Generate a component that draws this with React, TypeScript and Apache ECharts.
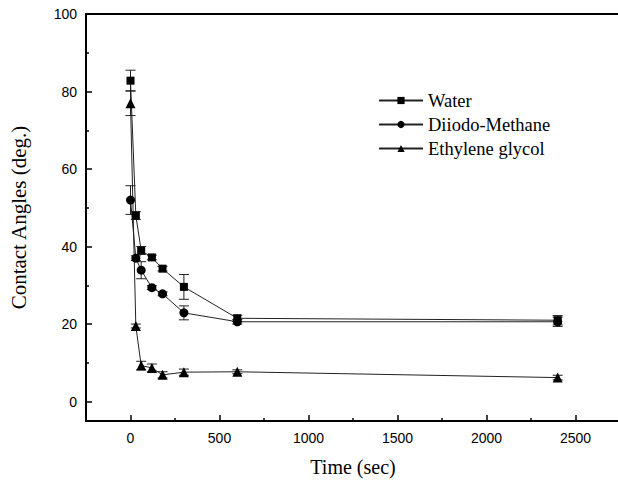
import React, { useEffect, useRef } from "react";
import * as echarts from "echarts";

const times = [0, 30, 60, 120, 180, 300, 600, 2400];
const water = [82.8, 48, 39, 37.2, 34.3, 29.6, 21.5, 21];
const waterErr = [2.7, 1, 1, 0.6, 0.6, 3.2, 0.8, 1.2];
const diiodo = [52, 37, 33.9, 29.4, 27.8, 22.9, 20.6, 20.6];
const diiodoErr = [3.7, 0.6, 2.2, 0.5, 0.5, 1.8, 0.6, 1.2];
const glycol = [77, 19.5, 9.3, 8.7, 6.9, 7.6, 7.7, 6.2];
const glycolErr = [3.2, 0.5, 1.1, 1, 0.8, 0.8, 0.5, 0.6];
const seriesNames = ["Water", "Diiodo-Methane", "Ethylene glycol"];

const serif = "'Liberation Serif', 'Times New Roman', serif";
const sans = "'Liberation Sans', Arial, sans-serif";

function errData(vals: number[], errs: number[]) {
  return times.map((t, i) => [t, vals[i] - errs[i], vals[i] + errs[i]]);
}

const renderErr = (params: any, api: any) => {
  const x = api.value(0);
  const lo = api.coord([x, api.value(1)]);
  const hi = api.coord([x, api.value(2)]);
  const hw = 5;
  const style = { stroke: "#222", lineWidth: 1 };
  return {
    type: "group",
    children: [
      { type: "line", shape: { x1: lo[0], y1: lo[1], x2: hi[0], y2: hi[1] }, style },
      { type: "line", shape: { x1: lo[0] - hw, y1: lo[1], x2: lo[0] + hw, y2: lo[1] }, style },
      { type: "line", shape: { x1: hi[0] - hw, y1: hi[1], x2: hi[0] + hw, y2: hi[1] }, style },
    ],
  };
};

export default function App() {
  const ref = useRef<HTMLDivElement>(null);
  useEffect(() => {
    if (!ref.current) return;
    const chart = echarts.init(ref.current, null, { renderer: "svg" });
    const lineSeries = (name: string, vals: number[], symbol: string, size: number) => ({
      name,
      type: "line",
      data: times.map((t, i) => [t, vals[i]]),
      symbol,
      symbolSize: size,
      showAllSymbol: true,
      lineStyle: { color: "#222", width: 1 },
      itemStyle: { color: "#000" },
      z: 3,
    });
    const errSeries = (vals: number[], errs: number[]) => ({
      type: "custom",
      renderItem: renderErr,
      data: errData(vals, errs),
      encode: { x: 0, y: [1, 2] },
      z: 2,
      silent: true,
    });
    chart.setOption({
      animation: false,
      backgroundColor: "#fff",
      grid: { left: 86, top: 14, right: -2, bottom: 62, containLabel: false, outerBoundsMode: "none" },
      legend: {
        data: seriesNames,
        orient: "vertical",
        left: 373,
        top: 86,
        itemWidth: 44,
        itemHeight: 9,
        itemGap: 5,
        textStyle: { fontFamily: serif, fontSize: 18.5, color: "#000" },
      },
      xAxis: [
        {
          type: "value",
          min: -250,
          max: 2750,
          splitNumber: 6,
          name: "Time (sec)",
          nameLocation: "middle",
          nameGap: 36,
          nameTextStyle: { fontFamily: serif, fontSize: 20, color: "#000" },
          axisLine: { show: true, onZero: false, lineStyle: { color: "#000", width: 2 } },
          axisTick: { show: true, inside: true, length: 6, lineStyle: { color: "#000", width: 1.5 } },
          minorTick: { show: true, splitNumber: 2, length: 3, lineStyle: { color: "#000", width: 1.5 } },
          splitLine: { show: false },
          axisLabel: {
            fontFamily: sans,
            fontSize: 14,
            color: "#000",
            margin: 10,
            formatter: (v: number) => (v % 500 === 0 && v >= 0 && v <= 2500 ? String(v) : ""),
          },
        },
        {
          type: "value",
          position: "top",
          min: -250,
          max: 2750,
          axisLine: { show: true, onZero: false, lineStyle: { color: "#000", width: 2 } },
          axisTick: { show: false },
          axisLabel: { show: false },
          splitLine: { show: false },
        },
      ],
      yAxis: {
        type: "value",
        min: -5,
        max: 100,
        splitNumber: 5,
        name: "Contact Angles (deg.)",
        nameLocation: "middle",
        nameGap: 57,
        nameTextStyle: { fontFamily: serif, fontSize: 21, color: "#000" },
        axisLine: { show: true, onZero: false, lineStyle: { color: "#000", width: 2 } },
        axisTick: { show: true, inside: true, length: 6, lineStyle: { color: "#000", width: 1.5 } },
        minorTick: { show: true, splitNumber: 2, length: 3, lineStyle: { color: "#000", width: 1.5 } },
        splitLine: { show: false },
        axisLabel: {
          fontFamily: sans,
          fontSize: 14,
          color: "#000",
          margin: 9,
          formatter: (v: number) => (v % 20 === 0 && v >= 0 ? String(v) : ""),
        },
      },
      series: [
        errSeries(water, waterErr),
        errSeries(diiodo, diiodoErr),
        errSeries(glycol, glycolErr),
        lineSeries(seriesNames[0], water, "rect", 8),
        lineSeries(seriesNames[1], diiodo, "circle", 9),
        lineSeries(seriesNames[2], glycol, "triangle", 10),
      ],
    });
    return () => chart.dispose();
  }, []);
  return (
    <div
      ref={ref}
      style={{ position: "fixed", left: 0, top: 0, width: 618, height: 483, background: "#fff" }}
    />
  );
}
